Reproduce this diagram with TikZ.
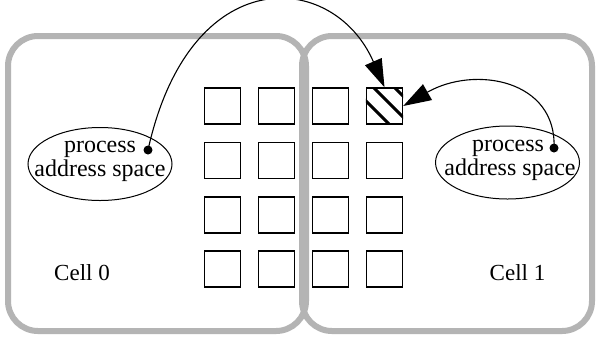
\documentclass[tikz,border=0pt]{standalone}
\usepackage{fontspec}
\setmainfont{Liberation Serif}
\usetikzlibrary{arrows.meta,shapes.geometric}
\definecolor{cellgray}{HTML}{B4B4B4}
\begin{document}
\begin{tikzpicture}[x=1pt,y=-1pt,
  cellbox/.style={draw=cellgray,line width=6pt,rounded corners=30pt},
  pagebox/.style={draw,line width=1.4pt,minimum size=36pt,inner sep=0pt},
  procell/.style={draw,ellipse,line width=1pt,minimum width=144pt,minimum height=73pt,inner sep=0pt},
  proctext/.style={font=\fontsize{24}{22}\selectfont,inner sep=0pt,anchor=base},
  celltext/.style={font=\fontsize{23}{24}\selectfont,inner sep=0pt,anchor=base},
  dotmark/.style={circle,fill,inner sep=0pt,minimum size=9pt},
  ptr/.style={line width=1.1pt,-{Triangle[length=28pt,width=18pt]}}]
\useasboundingbox (0,0) rectangle (599,341);
\fill[white] (0,0) rectangle (599,341);
% cells
\draw[cellbox] (8,36) rectangle (306,331);
\draw[cellbox] (302,36) rectangle (592,331);
% pages
\foreach \c/\x in {1/222.5,2/276.5,3/330.5,4/384.5}{
  \foreach \r/\y in {1/106,2/160.5,3/215,4/269}{
    \node[pagebox] (s\r\c) at (\x,\y) {};
  }
}
% hatching of the target page
\begin{scope}
  \clip (s14.south west) rectangle (s14.north east);
  \foreach \cc in {265,286,307}{
    \draw[line width=3pt] (\cc-40,-40) -- (\cc+200,200);
  }
\end{scope}
\node[pagebox] at (s14) {};
% process address spaces
\node[procell] (ell0) at (100,164) {};
\node[proctext] (pa0) at (100,152) {process};
\node[proctext] (as0) at (100,176) {address space};
\node[procell] (ell1) at (507.5,162.5) {};
\node[proctext] (pa1) at (508,151) {process};
\node[proctext] (as1) at (510,175) {address space};
\node[dotmark] (dot0) at (148,150) {};
\node[dotmark] (dot1) at (554,148) {};
% cell labels
\node[celltext] (lab0) at (82,280) {Cell 0};
\node[celltext] (lab1) at (517.5,280) {Cell 1};
% pointers
\draw[ptr] (dot0.center) .. controls (190,-40) and (333.5,-30) .. (s14.north);
\draw[ptr] (dot1.center) .. controls (557,80) and (475,65) .. (s14.east);
\end{tikzpicture}
\end{document}
